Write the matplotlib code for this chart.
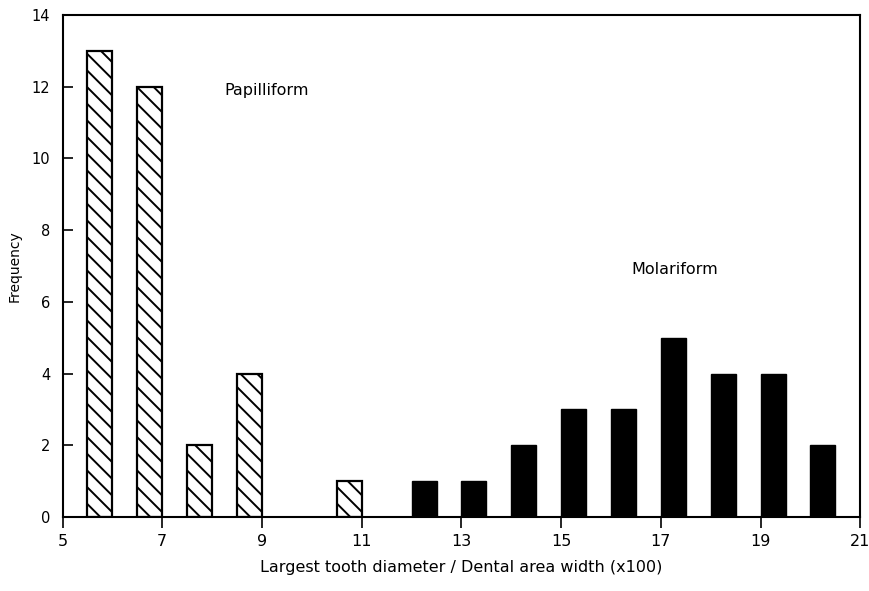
import matplotlib
matplotlib.use("Agg")
import matplotlib.pyplot as plt

# Data
papilliform_x = [6, 7, 8, 9, 11]          # right edge of each hatched bar
papilliform_freq = [13, 12, 2, 4, 1]
molariform_x = [12, 13, 14, 15, 16, 17, 18, 19, 20]   # left edge of each black bar
molariform_freq = [1, 1, 2, 3, 3, 5, 4, 4, 2]
x_ticks = [5, 7, 9, 11, 13, 15, 17, 19, 21]
y_ticks = [0, 2, 4, 6, 8, 10, 12, 14]

plt.rcParams['hatch.linewidth'] = 1.4
plt.rcParams['font.family'] = ['DejaVu Sans']

fig = plt.figure(figsize=(8.69, 5.91), dpi=100)
ax = fig.add_axes([0.072, 0.125, 0.918, 0.85])

bw = 0.5
ax.bar(papilliform_x, papilliform_freq, width=-bw, align='edge',
       facecolor='white', edgecolor='black', hatch='\\\\', linewidth=1.6)
ax.bar(molariform_x, molariform_freq, width=bw, align='edge',
       facecolor='black', edgecolor='black', linewidth=1.0)

ax.set_xlim(5, 21)
ax.set_ylim(0, 14)
ax.set_xticks(x_ticks)
ax.set_yticks(y_ticks)
ax.tick_params(axis='x', direction='out', length=8, width=1.2, labelsize=11.5, pad=4)
ax.tick_params(axis='y', direction='in', length=7, width=1.2, labelsize=10.5, pad=9)

for s in ax.spines.values():
    s.set_linewidth(1.5)

ax.set_xlabel('Largest tooth diameter / Dental area width (x100)', fontsize=11.5, labelpad=8)
ax.set_ylabel('Frequency', fontsize=10, labelpad=7)

ax.text(8.25, 11.9, 'Papilliform', fontsize=11.5, ha='left', va='center')
ax.text(16.4, 6.9, 'Molariform', fontsize=11.5, ha='left', va='center')

fig.savefig('out.png', dpi=100)
